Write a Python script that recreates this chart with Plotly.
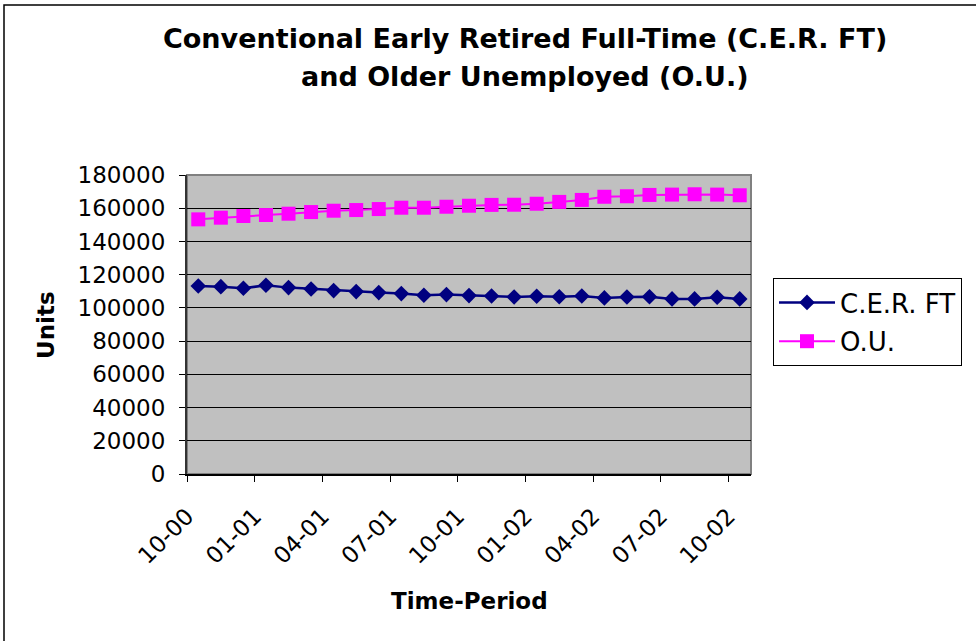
import plotly.graph_objects as go

# Monthly periods, Oct 2000 through Oct 2002
periods = ["10-00", "11-00", "12-00", "01-01", "02-01", "03-01", "04-01", "05-01",
           "06-01", "07-01", "08-01", "09-01", "10-01", "11-01", "12-01", "01-02",
           "02-02", "03-02", "04-02", "05-02", "06-02", "07-02", "08-02", "09-02",
           "10-02"]

# Conventional Early Retired Full-Time
cer_ft = [113200, 112800, 111800, 113600, 112200, 111400, 110400, 109800,
          109200, 108600, 107600, 108000, 107400, 107200, 106600, 107000,
          106700, 107200, 106000, 106600, 106700, 105400, 105400, 106400,
          105400]

# Older Unemployed
older_unemp = [153300, 154300, 155300, 155900, 156700, 157700, 158500, 158900,
               159500, 160300, 160300, 160900, 161500, 162000, 162100, 162700,
               163800, 165000, 166900, 167200, 168000, 168200, 168400, 168200,
               167800]

y_ticks = list(range(0, 180001, 20000))

title_lines = ["Conventional Early Retired Full-Time (C.E.R. FT)",
               "and Older Unemployed (O.U.)"]

FONT = "DejaVu Sans, Verdana, sans-serif"
idx = list(range(len(periods)))
label_step = 3
tick_pos = [i - 0.5 for i in idx[::label_step]]
tick_txt = periods[::label_step]

fig = go.Figure()
fig.add_trace(go.Scatter(
    x=idx, y=cer_ft, name="C.E.R. FT", mode="lines+markers",
    legendgroup="a",
    line=dict(color="#000080", width=2.5),
    marker=dict(symbol="diamond", size=12, color="#000080"),
))
fig.add_trace(go.Scatter(
    x=idx, y=older_unemp, name="O.U.", mode="lines+markers",
    legendgroup="b",
    line=dict(color="#FF00FF", width=2),
    marker=dict(symbol="square", size=14, color="#FF00FF"),
))

L, R, T, B = 187, 225, 175, 167
W, H = 976, 641
pw, ph = W - L - R, H - T - B

def px_x(v):
    return (v - L) / pw

def px_y(v):
    return (H - B - v) / ph

fig.update_layout(
    width=W, height=H,
    margin=dict(l=L, r=R, t=T, b=B),
    paper_bgcolor="white",
    plot_bgcolor="#C0C0C0",
    font=dict(family=FONT, color="black"),
    xaxis=dict(
        range=[-0.5, len(periods) - 0.5],
        tickmode="array", tickvals=tick_pos, ticktext=tick_txt,
        tickangle=-45, ticks="outside", ticklen=6, tickcolor="black",
        showgrid=False, zeroline=False,
        showline=True, linecolor="black", linewidth=1.5,
        tickfont=dict(size=23, family=FONT),
        ticklabelstandoff=12,
    ),
    yaxis=dict(
        range=[0, 180000],
        tickmode="array", tickvals=y_ticks,
        ticktext=[str(v) for v in y_ticks],
        ticks="outside", ticklen=6, tickcolor="black",
        showgrid=True, gridcolor="black", gridwidth=1,
        zeroline=False,
        showline=True, linecolor="#333333", linewidth=2,
        tickfont=dict(size=23, family=FONT),
        ticklabelstandoff=9,
    ),
    legend=dict(
        x=px_x(773), y=px_y(278), xanchor="left", yanchor="top",
        bordercolor="black", borderwidth=1, bgcolor="white",
        font=dict(size=26, family=FONT),
        itemwidth=56, tracegroupgap=2,
    ),
    showlegend=True,
)

# Chart title, two centred lines
for text, yc in zip(title_lines, [38, 76]):
    fig.add_annotation(text=f"<b>{text}</b>", xref="paper", yref="paper",
                       x=px_x(525), y=px_y(yc), xanchor="center", yanchor="middle",
                       showarrow=False, font=dict(size=27, family=FONT))

# Axis titles
fig.add_annotation(text="<b>Units</b>", xref="paper", yref="paper",
                   x=px_x(46), y=px_y(325), xanchor="center", yanchor="middle",
                   textangle=-90, showarrow=False,
                   font=dict(size=23, family=FONT))
fig.add_annotation(text="<b>Time-Period</b>", xref="paper", yref="paper",
                   x=px_x(469), y=px_y(601), xanchor="center", yanchor="middle",
                   showarrow=False, font=dict(size=23, family=FONT))

# Plot-area frame (top and right edges) and outer chart border
fig.add_shape(type="rect", xref="paper", yref="paper", x0=0, x1=1, y0=0, y1=1,
              line=dict(color="#808080", width=2), layer="below")
fig.add_shape(type="rect", xref="paper", yref="paper",
              x0=px_x(4), x1=px_x(990), y0=px_y(660), y1=px_y(5),
              line=dict(color="black", width=1.5))

fig.write_html("out.html")
